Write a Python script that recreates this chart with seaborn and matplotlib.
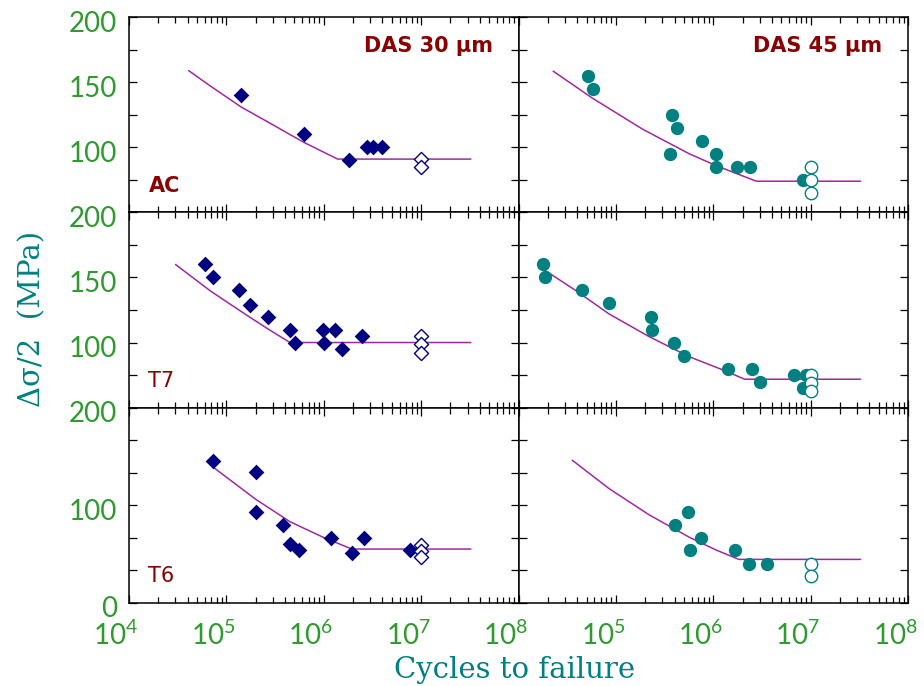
import numpy as np
import matplotlib
matplotlib.use("Agg")
import matplotlib.pyplot as plt
import seaborn as sns
from matplotlib.ticker import LogLocator, NullFormatter
from matplotlib.transforms import ScaledTranslation

# ---- stress amplitude (MPa) versus cycles to failure ----
# DAS 30 um : filled diamonds = failures, open diamonds = run-outs
ac30_n = [1.42e5, 6.2e5, 1.82e6, 2.8e6, 3.2e6, 4.0e6]
ac30_s = [140, 110, 90, 100, 100, 100]
ac30_run_n = [1e7, 1e7]
ac30_run_s = [91, 85]
ac30_fit_n = [4.1e4, 6.9e4, 1.42e5, 2.6e5, 6.2e5, 1.39e6, 3.24e7]
ac30_fit_s = [159, 147, 131, 120, 104, 91, 91]

t7_30_n = [6.0e4, 7.3e4, 1.36e5, 1.75e5, 2.7e5, 4.5e5, 5.1e5, 9.8e5, 1.0e6, 1.31e6, 1.53e6, 2.5e6]
t7_30_s = [160, 150, 140, 129, 120, 110, 100, 110, 100, 110, 95, 105]
t7_30_run_n = [1e7, 1e7, 1e7]
t7_30_run_s = [105, 99, 92]
t7_30_fit_n = [3.0e4, 4.6e4, 6.9e4, 1.02e5, 1.62e5, 2.8e5, 4.5e5, 3.24e7]
t7_30_fit_s = [160, 149.5, 139.5, 131, 121, 109.5, 100, 100]

t6_30_n = [7.3e4, 2.0e5, 2.0e5, 3.8e5, 4.5e5, 5.6e5, 1.18e6, 1.94e6, 2.6e6, 7.7e6]
t6_30_s = [145, 134, 93, 80, 60, 54, 66, 51, 66, 54]
t6_30_run_n = [1e7, 1e7, 1e7]
t6_30_run_s = [59, 53, 47]
t6_30_fit_n = [7.3e4, 2.0e5, 4.5e5, 9.9e5, 1.94e6, 3.24e7]
t6_30_fit_s = [139, 106, 83, 67, 55, 55]

# DAS 45 um : filled circles = failures, open circles = run-outs
ac45_n = [5.2e4, 5.8e4, 3.56e5, 3.8e5, 4.25e5, 7.7e5, 1.07e6, 1.07e6, 1.75e6, 2.38e6, 8.3e6]
ac45_s = [155, 145, 95, 125, 115, 105, 95, 85, 85, 85, 75]
ac45_run_n = [1e7, 1e7, 1e7]
ac45_run_s = [85, 75, 65]
ac45_fit_n = [2.27e4, 5.7e4, 1.88e5, 5.7e5, 1.07e6, 2.77e6, 3.26e7]
ac45_fit_s = [158.6, 138, 114, 95, 86, 74, 74]

t7_45_n = [1.77e4, 1.86e4, 4.5e4, 8.5e4, 2.31e5, 2.37e5, 3.92e5, 5.05e5, 1.41e6, 2.5e6,
           2.99e6, 6.7e6, 8.9e6, 8.4e6]
t7_45_s = [160, 150, 140, 130, 120, 110, 100, 90, 80, 80, 70, 75, 75, 65]
t7_45_run_n = [1e7, 1e7, 1e7]
t7_45_run_s = [75, 69, 63]
t7_45_fit_n = [1.86e4, 3.87e4, 8.5e4, 2.2e5, 5.7e5, 1.25e6, 2.1e6, 3.26e7]
t7_45_fit_s = [155.6, 140, 122, 104.5, 89, 79, 71.8, 71.8]

t6_45_n = [4.08e5, 5.46e5, 5.73e5, 7.4e5, 1.69e6, 2.34e6, 3.56e6]
t6_45_s = [80, 93, 54, 66, 54, 40, 40]
t6_45_run_n = [1e7, 1e7]
t6_45_run_s = [40, 27]
t6_45_fit_n = [3.57e4, 8.5e4, 2.2e5, 5.7e5, 1.07e6, 1.83e6, 3.26e7]
t6_45_fit_s = [146, 117, 90, 67, 54, 44.4, 44.4]

row_names = ["AC", "T7", "T6"]
col_titles = ["DAS 30 \u03bcm", "DAS 45 \u03bcm"]
decade_labels = [r"$10^{4}$", r"$10^{5}$", r"$10^{6}$", r"$10^{7}$", r"$10^{8}$"]

GREEN = "#2f9a2f"
TEAL = "#008080"
NAVY = "#000080"
DARKRED = "#8b0000"
PURPLE = "#a028a0"

sns.set_style("ticks")
plt.rcParams["font.family"] = ["DejaVu Sans"]
plt.rcParams["mathtext.fontset"] = "custom"
plt.rcParams["mathtext.rm"] = "Lato"
plt.rcParams["mathtext.it"] = "Lato"
plt.rcParams["mathtext.bf"] = "Lato"

fig, axes = plt.subplots(3, 2, figsize=(9.24, 6.86), dpi=100)
fig.subplots_adjust(left=129 / 924, right=908 / 924, top=1 - 17.3 / 686,
                    bottom=1 - 602.7 / 686, wspace=0, hspace=0)

panels = [
    [(ac30_n, ac30_s, ac30_run_n, ac30_run_s, ac30_fit_n, ac30_fit_s),
     (ac45_n, ac45_s, ac45_run_n, ac45_run_s, ac45_fit_n, ac45_fit_s)],
    [(t7_30_n, t7_30_s, t7_30_run_n, t7_30_run_s, t7_30_fit_n, t7_30_fit_s),
     (t7_45_n, t7_45_s, t7_45_run_n, t7_45_run_s, t7_45_fit_n, t7_45_fit_s)],
    [(t6_30_n, t6_30_s, t6_30_run_n, t6_30_run_s, t6_30_fit_n, t6_30_fit_s),
     (t6_45_n, t6_45_s, t6_45_run_n, t6_45_run_s, t6_45_fit_n, t6_45_fit_s)],
]

for r in range(3):
    for c in range(2):
        ax = axes[r, c]
        ax.set_xscale("log")
        n, s, run_n, run_s, fit_n, fit_s = panels[r][c]
        if c == 0:
            marker, col, size, osize = "D", NAVY, 64, 52
        else:
            marker, col, size, osize = "o", TEAL, 92, 80

        sns.lineplot(x=fit_n, y=fit_s, ax=ax, color=PURPLE, lw=1.1,
                     estimator=None, sort=False, zorder=2)
        sns.scatterplot(x=n, y=s, ax=ax, marker=marker, s=size, color=col,
                        linewidth=0, zorder=3)
        sns.scatterplot(x=run_n, y=run_s, ax=ax, marker=marker, s=osize,
                        facecolor="white", edgecolor=col, linewidth=1.0, zorder=4)
        ax.set_xlabel("")
        ax.set_ylabel("")

        ax.set_xlim(1e4, 1e8)
        ax.set_xticks([1e4, 1e5, 1e6, 1e7, 1e8])
        ax.xaxis.set_minor_locator(LogLocator(base=10, subs=np.arange(2, 10), numticks=20))
        ax.xaxis.set_minor_formatter(NullFormatter())
        if r == 2:
            labels = list(decade_labels) if c == 0 else [""] + decade_labels[1:]
            ax.set_xticklabels(labels)
        else:
            ax.set_xticklabels([])

        if r < 2:
            ax.set_ylim(50, 200)
            ax.set_yticks(np.arange(50, 201, 25))
            ylabels = ["", "", "100", "", "150", "", "200"]
        else:
            ax.set_ylim(0, 200)
            ax.set_yticks(np.linspace(0, 200, 7))
            ylabels = ["0", "", "", "100", "", "", "200"]
        ax.set_yticklabels(ylabels if c == 0 else [""] * len(ylabels))

        ax.tick_params(axis="both", which="both", direction="in", top=True, right=True,
                       color="black", labelcolor=GREEN, labelsize=20, width=0.9)
        ax.tick_params(axis="x", which="major", length=5.5, pad=14)
        ax.tick_params(axis="x", which="minor", length=4.3)
        ax.tick_params(axis="y", which="major", length=6, pad=8.8)
        for lbl in ax.get_yticklabels():
            lbl.set_fontfamily(["Lato"])
        for sp in ax.spines.values():
            sp.set_visible(True)
            sp.set_color("black")
            sp.set_linewidth(1.1)

        for lbl in ax.get_xticklabels():
            lbl.set_transform(lbl.get_transform()
                              + ScaledTranslation(-13 / 100, 0, fig.dpi_scale_trans))
        for lbl in ax.get_yticklabels():
            lbl.set_transform(lbl.get_transform()
                              + ScaledTranslation(0, -4 / 100, fig.dpi_scale_trans))

        if c == 0:
            ax.text(0.05, 0.137, row_names[r], transform=ax.transAxes, ha="left",
                    va="center", color=DARKRED, fontsize=15,
                    fontweight="bold" if r == 0 else "normal")
        if r == 0:
            ax.text(0.934, 0.855, col_titles[c], transform=ax.transAxes, ha="right",
                    va="center", color=DARKRED, fontsize=15, fontweight="bold")

fig.text(32 / 924, 1 - 319 / 686, "\u0394\u03c3/2  (MPa)", rotation=90, ha="center",
         va="center", color=TEAL, fontsize=21, family=["DejaVu Serif"])
fig.text(515 / 924, 1 - 678 / 686, "Cycles to failure", ha="center", va="baseline",
         color=TEAL, fontsize=21, family=["DejaVu Serif"])

fig.savefig("out.png", dpi=100)
